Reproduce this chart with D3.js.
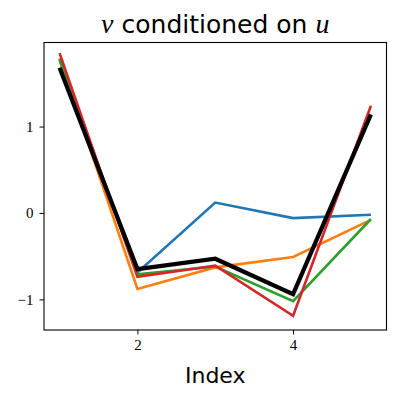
<!DOCTYPE html>
<html>
<head>
<meta charset="utf-8">
<script src="https://cdn.jsdelivr.net/npm/d3@7"></script>
<style>
  body { margin: 0; background: #fff; }
  svg { display: block; }
</style>
</head>
<body>
<div id="chart"></div>
<script>
var index = [1, 2, 3, 4, 5];
var blueValues = [1.77, -0.69, 0.12, -0.06, -0.02];
var orangeValues = [1.79, -0.88, -0.63, -0.51, -0.08];
var greenValues = [1.78, -0.71, -0.62, -1.02, -0.07];
var redValues = [1.85, -0.74, -0.61, -1.19, 1.24];
var blackValues = [1.68, -0.65, -0.53, -0.94, 1.14];
var xTicks = [2, 4];
var yTicks = [-1, 0, 1];

var series = [
    { values: blueValues, color: "#1f77b4", width: 2.6 },
    { values: orangeValues, color: "#ff7f0e", width: 2.6 },
    { values: greenValues, color: "#2ca02c", width: 2.6 },
    { values: redValues, color: "#d62728", width: 2.6 },
    { values: blackValues, color: "#000000", width: 4.2 }
];

var width = 398, height = 398;
var margin = { left: 44, right: 11.5, top: 42.5, bottom: 68 };

var svg = d3.select("#chart")
    .append("svg")
    .attr("width", width)
    .attr("height", height);

var x = d3.scaleLinear()
    .domain([0.8, 5.2])
    .range([margin.left, width - margin.right]);

var y = d3.scaleLinear()
    .domain([-1.3545, 1.9725])
    .range([height - margin.bottom, margin.top]);

var line = d3.line()
    .x(function (d, i) { return x(index[i]); })
    .y(function (d) { return y(d); });

var plot = svg.append("g").attr("class", "lines");

series.forEach(function (s) {
    plot.append("path")
        .attr("d", line(s.values))
        .attr("fill", "none")
        .attr("stroke", s.color)
        .attr("stroke-width", s.width)
        .attr("stroke-linejoin", "miter")
        .attr("stroke-linecap", "butt");
});

// axes
var xAxis = d3.axisBottom(x).tickValues(xTicks).tickSize(4.5).tickPadding(5)
    .tickFormat(d3.format("d"));
var yAxis = d3.axisLeft(y).tickValues(yTicks).tickSize(4.5).tickPadding(6)
    .tickFormat(function (d) { return d < 0 ? "\u2212" + Math.abs(d) : d; });

var gx = svg.append("g")
    .attr("transform", "translate(0," + (height - margin.bottom) + ")")
    .call(xAxis);
var gy = svg.append("g")
    .attr("transform", "translate(" + margin.left + ",0)")
    .call(yAxis);

[gx, gy].forEach(function (g) {
    g.select(".domain").remove();
    g.selectAll(".tick line").attr("stroke", "#000").attr("stroke-width", 1);
    g.selectAll(".tick text")
        .attr("fill", "#000")
        .style("font-family", "'Liberation Serif', serif")
        .style("font-size", "15px");
});

// frame
svg.append("rect")
    .attr("x", margin.left)
    .attr("y", margin.top)
    .attr("width", width - margin.left - margin.right)
    .attr("height", height - margin.top - margin.bottom)
    .attr("fill", "none")
    .attr("stroke", "#000")
    .attr("stroke-width", 1.1);

// labels
svg.append("text")
    .attr("x", (margin.left + width - margin.right) / 2)
    .attr("y", 383)
    .attr("text-anchor", "middle")
    .style("font-family", "'DejaVu Sans', sans-serif")
    .style("font-size", "22px")
    .text("Index");

var title = svg.append("text")
    .attr("x", (margin.left + width - margin.right) / 2)
    .attr("y", 33)
    .attr("text-anchor", "middle")
    .style("font-family", "'DejaVu Sans', sans-serif")
    .style("font-size", "25px");
title.append("tspan")
    .style("font-family", "'Liberation Serif', serif")
    .style("font-style", "italic")
    .style("font-size", "28px")
    .text("v");
title.append("tspan").text(" conditioned on ");
title.append("tspan")
    .style("font-family", "'Liberation Serif', serif")
    .style("font-style", "italic")
    .style("font-size", "28px")
    .text("u");
</script>
</body>
</html>
